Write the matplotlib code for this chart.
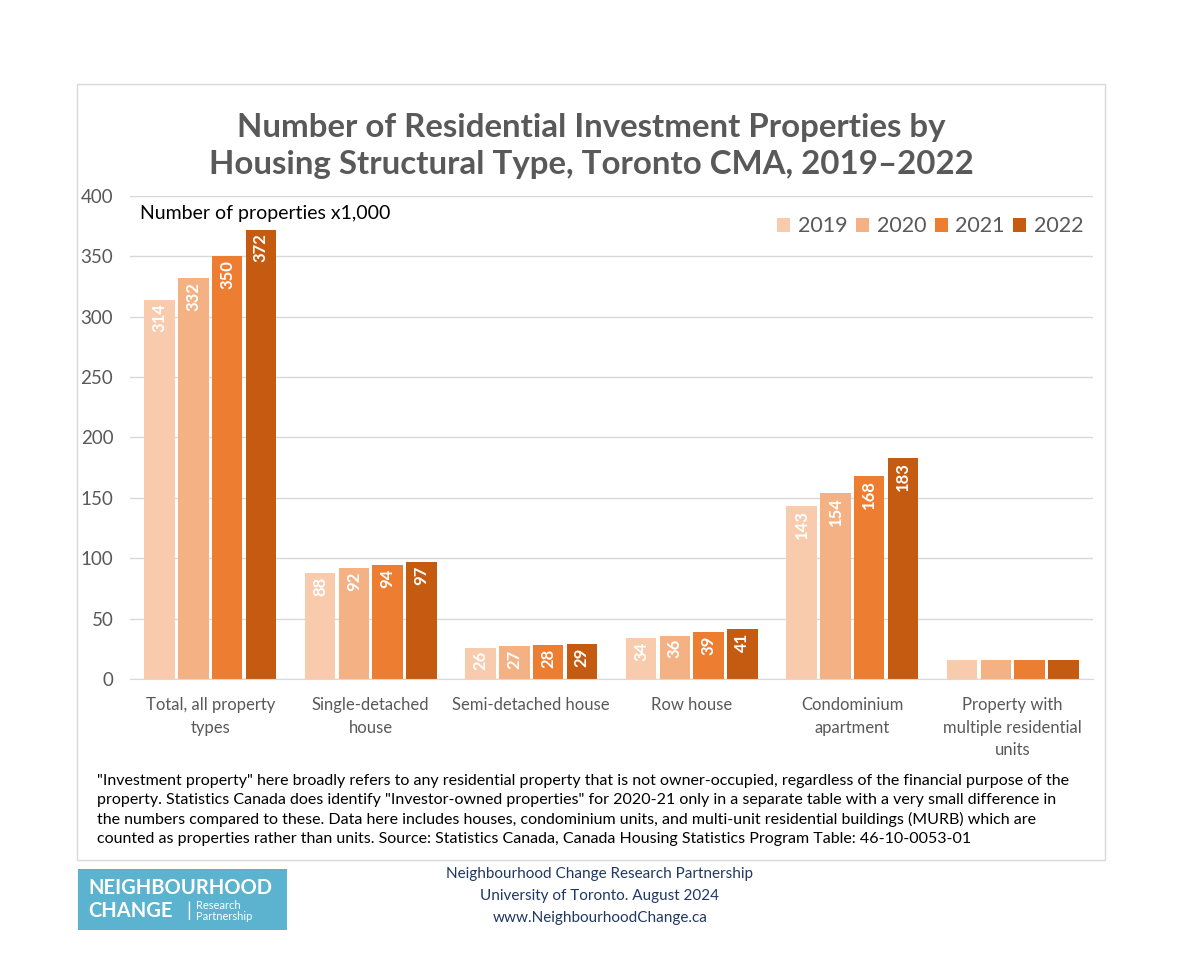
import matplotlib.pyplot as plt
import numpy as np
from matplotlib.patches import Rectangle

plt.rcParams['font.family'] = ['Lato', 'DejaVu Sans']

categories = ["Total, all property\ntypes", "Single-detached\nhouse", "Semi-detached house",
              "Row house", "Condominium\napartment", "Property with\nmultiple residential\nunits"]
years = ["2019", "2020", "2021", "2022"]
v2019 = [314, 88, 26, 34, 143, 16]
v2020 = [332, 92, 27, 36, 154, 16]
v2021 = [350, 94, 28, 39, 168, 16]
v2022 = [372, 97, 29, 41, 183, 16]
show_labels = [True, True, True, True, True, False]
series = [v2019, v2020, v2021, v2022]
colors = ["#F8CBAD", "#F4B183", "#ED7D31", "#C55A11"]

W, H = 1200, 967
fig = plt.figure(figsize=(12, 9.67), dpi=100)

# outer chart frame
fig.patches.append(Rectangle((77 / W, 1 - 860 / H), (1105 - 77) / W, (860 - 84) / H,
                             transform=fig.transFigure, fill=False, edgecolor="#D9D9D9", lw=1))

ax = fig.add_axes([130 / W, 1 - 679 / H, (1093 - 130) / W, (679 - 196) / H])
x = np.arange(len(categories))
bw = 0.19
step = 0.21
for i, (vals, c, yr) in enumerate(zip(series, colors, years)):
    pos = x + (i - 1.5) * step
    bars = ax.bar(pos, vals, bw, color=c, label=yr)
    for b, v, s in zip(bars, vals, show_labels):
        if s:
            ax.text(b.get_x() + b.get_width() / 2, v - 3, str(v), rotation=90,
                    ha="center", va="top", color="white", fontsize=12, fontweight="bold")

ax.set_xlim(-0.5, len(categories) - 0.5)
ax.set_ylim(0, 400)
ax.set_yticks(range(0, 401, 50))
ax.yaxis.grid(True, color="#D9D9D9", lw=1)
ax.set_axisbelow(True)
for s in ["top", "right", "left"]:
    ax.spines[s].set_visible(False)
ax.spines["bottom"].set_color("#D9D9D9")
ax.tick_params(axis="y", length=0, labelsize=13.5, labelcolor="#595959", pad=12)
ax.tick_params(axis="x", length=0, labelsize=12, labelcolor="#595959", pad=13)
ax.set_xticks(x)
ax.set_xticklabels(categories, linespacing=1.5)

ax.text(0.01, 0.963, "Number of properties x1,000", transform=ax.transAxes,
        fontsize=14, color="black", va="center")

leg = ax.legend(loc="upper right", ncol=4, frameon=False, fontsize=15.5,
                handlelength=0.6, handleheight=0.6, handletextpad=0.35,
                columnspacing=0.4, bbox_to_anchor=(1.01, 0.998), labelcolor="#595959")

fig.text(591 / W, 1 - 146 / H,
         "Number of Residential Investment Properties by\nHousing Structural Type, Toronto CMA, 2019\u20132022",
         ha="center", va="center", fontsize=23.8, fontweight="bold", color="#595959", linespacing=1.33)

note = ('"Investment property" here broadly refers to any residential property that is not owner-occupied, regardless of the financial purpose of the\n'
        'property. Statistics Canada does identify "Investor-owned properties" for 2020-21 only in a separate table with a very small difference in\n'
        'the numbers compared to these. Data here includes houses, condominium units, and multi-unit residential buildings (MURB) which are\n'
        'counted as properties rather than units. Source: Statistics Canada, Canada Housing Statistics Program Table: 46-10-0053-01')
fig.text(97 / W, 1 - 810 / H, note, ha="left", va="center", fontsize=11.5, color="black", linespacing=1.45)

fig.text(600 / W, 1 - 896 / H,
         "Neighbourhood Change Research Partnership\nUniversity of Toronto. August 2024\nwww.NeighbourhoodChange.ca",
         ha="center", va="center", fontsize=11, color="#1F3864", linespacing=1.75)

# logo block
fig.patches.append(Rectangle((78 / W, 1 - 930 / H), (287 - 78) / W, (930 - 869) / H,
                             transform=fig.transFigure, facecolor="#5BB3CF", edgecolor="none"))
fig.text(88 / W, 1 - 888 / H, "NEIGHBOURHOOD", fontsize=14.5, fontweight="bold", color="white", va="center")
fig.text(88 / W, 1 - 911 / H, "CHANGE", fontsize=14.5, fontweight="bold", color="white", va="center")
fig.text(186 / W, 1 - 911 / H, "|", fontsize=14, color="white", va="center")
fig.text(196 / W, 1 - 911 / H, "Research\nPartnership", fontsize=8, color="white", va="center", linespacing=0.9)

fig.savefig("out.png", dpi=100)
